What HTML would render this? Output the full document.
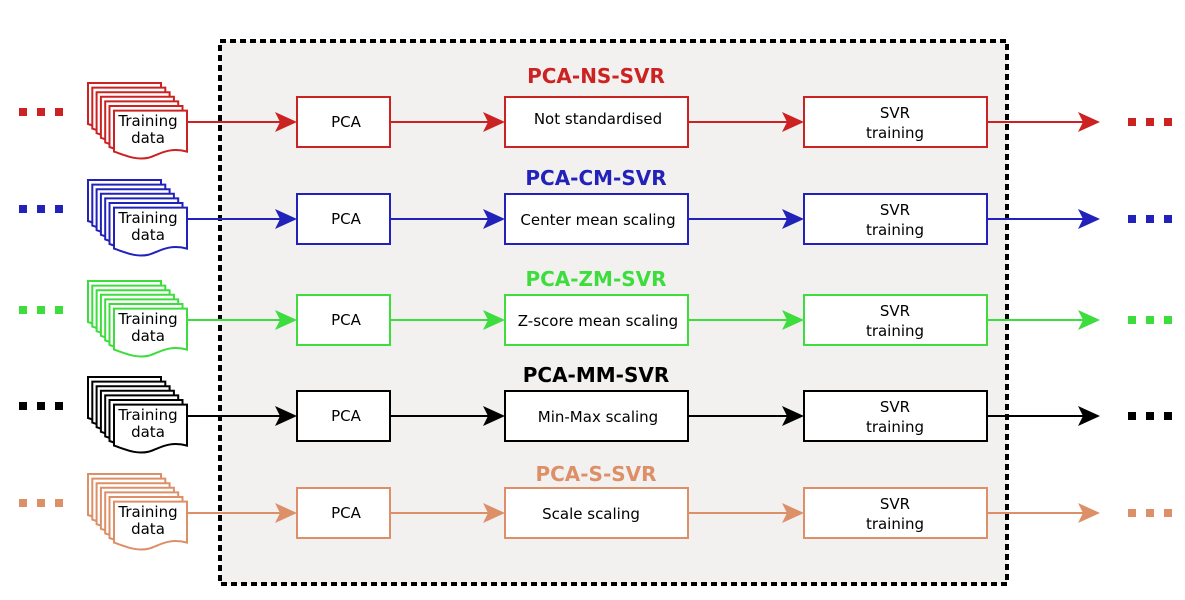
<!DOCTYPE html>
<html><head><style>body{margin:0;background:#fff}svg{display:block}</style></head><body>
<svg width="1185" height="600" viewBox="0 0 1185 600" xmlns="http://www.w3.org/2000/svg" xmlns:xlink="http://www.w3.org/1999/xlink" font-family="'DejaVu Sans','Liberation Sans',sans-serif">
<defs>
<path id="sh" d="M0 0 H73 V41 C55 36 45 44 35 47 C22 50 12 45 0 41 Z"/>
<g id="row">
 <g fill="currentColor">
  <rect x="19" y="-14" width="8" height="8"/><rect x="37" y="-14" width="8" height="8"/><rect x="55" y="-14" width="8" height="8"/>
  <rect x="1128" y="-4" width="8" height="8"/><rect x="1146" y="-4" width="8" height="8"/><rect x="1164" y="-4" width="8" height="8"/>
 </g>
 <g fill="#fff" stroke="currentColor" stroke-width="2">
  <use xlink:href="#sh" x="88" y="-39"/>
  <use xlink:href="#sh" x="92.3" y="-34.4"/>
  <use xlink:href="#sh" x="96.6" y="-29.8"/>
  <use xlink:href="#sh" x="100.9" y="-25.2"/>
  <use xlink:href="#sh" x="105.2" y="-20.6"/>
  <use xlink:href="#sh" x="109.5" y="-16"/>
  <use xlink:href="#sh" x="114" y="-11.4"/>
 </g>
 <g fill="#000" font-size="15" text-anchor="middle">
  <text x="148" y="4">Training</text><text x="148" y="21">data</text>
 </g>
 <g stroke="currentColor" stroke-width="2">
  <line x1="187" y1="0" x2="283" y2="0"/>
  <line x1="390" y1="0" x2="491" y2="0"/>
  <line x1="688" y1="0" x2="790" y2="0"/>
  <line x1="987" y1="0" x2="1086" y2="0"/>
 </g>
 <g fill="currentColor">
  <path d="M275 -10 L297 0 L275 10 L280 0 Z"/>
  <path d="M483 -10 L505 0 L483 10 L488 0 Z"/>
  <path d="M782 -10 L804 0 L782 10 L787 0 Z"/>
  <path d="M1078 -10 L1100 0 L1078 10 L1083 0 Z"/>
 </g>
 <g fill="#fff" stroke="currentColor" stroke-width="2">
  <rect x="297" y="-25" width="93" height="50"/>
  <rect x="505" y="-25" width="183" height="50"/>
  <rect x="804" y="-25" width="183" height="50"/>
 </g>
 <g fill="#000" font-size="15" text-anchor="middle">
  <text x="346" y="5">PCA</text>
  <text x="895" y="-4">SVR</text><text x="895" y="16">training</text>
 </g>
</g>
</defs>
<rect x="220" y="41" width="787" height="543" fill="#f2f1f0" stroke="#000" stroke-width="4" stroke-dasharray="6 4"/>

<g font-size="15" text-anchor="middle">
<use xlink:href="#row" transform="translate(0,122)" style="color:#cc2222"/>
<text x="596" y="83" font-weight="bold" font-size="20" fill="#cc2222">PCA-NS-SVR</text>
<text x="598" y="124">Not standardised</text>

<use xlink:href="#row" transform="translate(0,219)" style="color:#2222bb"/>
<text x="596" y="185" font-weight="bold" font-size="20" fill="#2222bb">PCA-CM-SVR</text>
<text x="598" y="225">Center mean scaling</text>

<use xlink:href="#row" transform="translate(0,320)" style="color:#3ddd3d"/>
<text x="596" y="286" font-weight="bold" font-size="20" fill="#3ddd3d">PCA-ZM-SVR</text>
<text x="598" y="326">Z-score mean scaling</text>

<use xlink:href="#row" transform="translate(0,416)" style="color:#000000"/>
<text x="596" y="382" font-weight="bold" font-size="20" fill="#000">PCA-MM-SVR</text>
<text x="598" y="422">Min-Max scaling</text>

<use xlink:href="#row" transform="translate(0,513)" style="color:#dd8f68"/>
<text x="596" y="481" font-weight="bold" font-size="20" fill="#dd8f68">PCA-S-SVR</text>
<text x="591" y="519">Scale scaling</text>
</g>
</svg>
</body></html>
